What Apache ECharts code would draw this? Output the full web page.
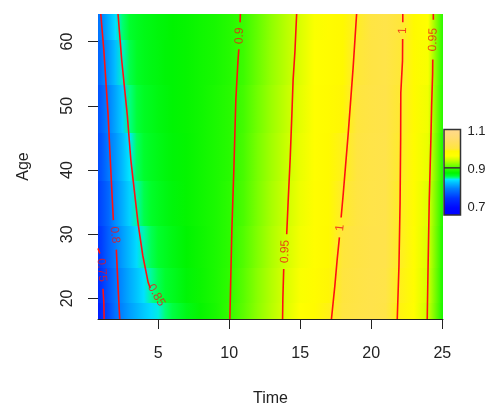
<!DOCTYPE html>
<html>
<head>
<meta charset="utf-8">
<title>Time / Age</title>
<script src="https://cdn.jsdelivr.net/npm/echarts@6.0.0/dist/echarts.min.js"></script>
<style>
  html, body { margin: 0; padding: 0; background: #ffffff; }
  #chart { width: 495px; height: 408px; }
</style>
</head>
<body>
<div id="chart"></div>
<script>
// surface values: one row per age, one value per time
var times = [0.77, 1, 1.5, 2, 2.5, 3, 3.5, 4, 4.5, 5, 5.5, 6, 7, 8, 9, 10, 11, 12, 13, 14, 15, 16, 17, 18, 19, 20, 21, 22, 23, 24, 25];
var ages = [17, 22, 28, 35, 42, 50, 57, 64];

var rowAge17 = [0.72, 0.742, 0.765, 0.79, 0.803, 0.814, 0.824, 0.834, 0.842, 0.849, 0.857, 0.863, 0.873, 0.883, 0.891, 0.9, 0.912, 0.927, 0.941, 0.954, 0.968, 0.982, 0.997, 1.009, 1.016, 1.02, 1.016, 0.996, 0.972, 0.947, 0.893];
var rowAge22 = [0.738, 0.75, 0.771, 0.792, 0.807, 0.82, 0.832, 0.844, 0.854, 0.861, 0.866, 0.87, 0.878, 0.885, 0.892, 0.899, 0.911, 0.926, 0.94, 0.953, 0.966, 0.98, 0.994, 1.007, 1.015, 1.02, 1.018, 0.998, 0.974, 0.95, 0.894];
var rowAge28 = [0.75, 0.756, 0.778, 0.798, 0.814, 0.828, 0.842, 0.853, 0.861, 0.866, 0.87, 0.874, 0.88, 0.886, 0.892, 0.898, 0.909, 0.923, 0.938, 0.95, 0.963, 0.976, 0.99, 1.004, 1.013, 1.019, 1.02, 1.0, 0.976, 0.953, 0.895];
var rowAge35 = [0.758, 0.765, 0.783, 0.806, 0.822, 0.838, 0.853, 0.862, 0.867, 0.871, 0.874, 0.877, 0.882, 0.887, 0.892, 0.898, 0.907, 0.921, 0.936, 0.948, 0.961, 0.974, 0.987, 1.001, 1.011, 1.018, 1.02, 1.0, 0.977, 0.955, 0.896];
var rowAge42 = [0.765, 0.772, 0.795, 0.81, 0.828, 0.846, 0.86, 0.866, 0.87, 0.873, 0.876, 0.878, 0.882, 0.887, 0.892, 0.897, 0.906, 0.92, 0.934, 0.946, 0.959, 0.972, 0.985, 0.998, 1.009, 1.017, 1.02, 1.001, 0.979, 0.959, 0.897];
var rowAge50 = [0.77, 0.778, 0.8, 0.818, 0.836, 0.856, 0.864, 0.869, 0.872, 0.875, 0.877, 0.879, 0.883, 0.887, 0.892, 0.897, 0.905, 0.918, 0.932, 0.944, 0.957, 0.97, 0.982, 0.994, 1.006, 1.015, 1.019, 1.002, 0.981, 0.962, 0.898];
var rowAge57 = [0.78, 0.79, 0.81, 0.83, 0.851, 0.862, 0.868, 0.872, 0.874, 0.876, 0.878, 0.879, 0.883, 0.887, 0.891, 0.896, 0.903, 0.916, 0.93, 0.942, 0.955, 0.968, 0.98, 0.991, 1.003, 1.013, 1.018, 1.003, 0.983, 0.965, 0.899];
var rowAge64 = [0.79, 0.801, 0.823, 0.843, 0.858, 0.866, 0.87, 0.873, 0.875, 0.877, 0.878, 0.88, 0.883, 0.887, 0.891, 0.896, 0.902, 0.914, 0.928, 0.941, 0.953, 0.966, 0.978, 0.989, 1.0, 1.012, 1.018, 1.004, 0.985, 0.968, 0.9];
var surface = [rowAge17, rowAge22, rowAge28, rowAge35, rowAge42, rowAge50, rowAge57, rowAge64];

// contour lines as [time, age]; null leaves room for the label
var contour075 = [[0.77, 27.8], [0.9, 27.0], null, [1.12, 21.5], [1.18, 19.5], [1.2, 16.8]];
var contour080 = [[0.965, 64.3], [1.18, 58.7], [1.48, 48.6], [1.67, 40], [1.85, 32.2], null, [2.06, 27.6], [2.18, 21.8], [2.3, 16.8]];
var contour085 = [[2.18, 64.3], [2.44, 57.1], [2.83, 48.6], [3.08, 41.6], [3.59, 31.7], [3.92, 26.7], [4.3, 22.5], [4.45, 21.6]];
var contour090 = [[10.79, 64.3], [10.77, 63.0], null, [10.68, 58.8], [10.62, 57], [10.47, 50.9], [10.33, 40], [10.19, 30.6], [10.05, 16.8]];
var contour095a = [[14.75, 64.3], [14.63, 58.5], [14.5, 54], [14.42, 49], [14.3, 42], [14.15, 35], [14.05, 30], null, [13.84, 24.6], [13.78, 20], [13.76, 16.8]];
var contour100a = [[18.97, 64.3], [18.73, 56.1], [18.38, 45.7], [18.03, 36.3], [17.88, 32.6], null, [17.76, 29.5], [17.6, 26], [17.44, 22], [17.2, 16.8]];
var contour100b = [[22.22, 64.3], [22.22, 63.0], null, [22.21, 60.4], [22.2, 57], [22.08, 52], [22.07, 45], [22.03, 35], [21.95, 25], [21.83, 16.8]];
var contour095b = [[24.37, 64.3], [24.37, 63.4], null, [24.33, 57.2], [24.32, 55], [24.25, 50], [24.2, 45], [24.08, 35], [24.0, 25], [23.94, 16.8]];
var contourLines = [contour075, contour080, contour085, contour090, contour095a, contour100a, contour100b, contour095b];

// contour labels
var labelTimes = [1.03, 1.95, 4.87, 10.72, 13.93, 17.8, 22.21, 24.35];
var labelAges = [24.4, 29.9, 20.5, 60.9, 27.3, 31.0, 61.7, 60.3];
var labelTexts = ['0.75', '0.8', '0.85', '0.9', '0.95', '1', '1', '0.95'];
var labelAngles = [-85, -84, -60, 88, 88, 84, 89, 88];

var xTicks = [5, 10, 15, 20, 25];
var yTicks = [20, 30, 40, 50, 60];
var legendTicks = [0.7, 0.9, 1.1];
var legendSplit = 0.907;

// colour scale
var rampValues = [0.66, 0.70, 0.75, 0.80, 0.83, 0.847, 0.856, 0.865, 0.88, 0.895, 0.92, 0.95, 0.968, 0.993, 1.004, 1.06, 1.11];
var rampColors = ['#0000ff', '#0008ff', '#0034ff', '#0080ff', '#00c0ff', '#00e8ff', '#00ff80', '#00ff30', '#00f400', '#20fa00', '#78ff00', '#d4ff00', '#ffff00', '#fff800', '#ffe63c', '#ffdc70', '#ffd890'];

var xMin = 0.77, xMax = 25.05, yMin = 16.8, yMax = 64.3;
var barMin = 0.66, barMax = 1.108;
var font = "'Liberation Sans', Arial, sans-serif";

function hexToRgb(h) {
  return [parseInt(h.substr(1, 2), 16), parseInt(h.substr(3, 2), 16), parseInt(h.substr(5, 2), 16)];
}

function rampColor(v) {
  if (v <= rampValues[0]) return rampColors[0];
  for (var k = 1; k < rampValues.length; k++) {
    if (v <= rampValues[k]) {
      var f = (v - rampValues[k - 1]) / (rampValues[k] - rampValues[k - 1]);
      var a = hexToRgb(rampColors[k - 1]), b = hexToRgb(rampColors[k]);
      return 'rgb(' + Math.round(a[0] + (b[0] - a[0]) * f) + ',' +
        Math.round(a[1] + (b[1] - a[1]) * f) + ',' +
        Math.round(a[2] + (b[2] - a[2]) * f) + ')';
    }
  }
  return rampColors[rampColors.length - 1];
}

// age bands: each row fills half way to its neighbours
var bandEdges = [yMin];
for (var i = 0; i < ages.length - 1; i++) bandEdges.push((ages[i] + ages[i + 1]) / 2);
bandEdges.push(yMax);
var surfaceRows = ages.map(function (a, i) {
  return [xMin, bandEdges[i], xMax, bandEdges[i + 1], i];
});

function renderSurfaceRow(params, api) {
  var row = surface[api.value(4)];
  var p0 = api.coord([api.value(0), api.value(3)]);
  var p1 = api.coord([api.value(2), api.value(1)]);
  var w = p1[0] - p0[0];
  var stops = [];
  for (var j = 0; j < times.length; j++) {
    var x = api.coord([times[j], api.value(1)])[0];
    stops.push({ offset: Math.min(1, Math.max(0, (x - p0[0]) / w)), color: rampColor(row[j]) });
  }
  var top = Math.floor(p0[1]);
  return {
    type: 'rect',
    shape: { x: p0[0], y: top, width: w, height: Math.ceil(p1[1]) - top + 1 },
    style: { fill: new echarts.graphic.LinearGradient(0, 0, 1, 0, stops) }
  };
}

function renderLegendBar(params, api) {
  var lo = api.value(1), hi = api.value(3);
  var p0 = api.coord([api.value(0), hi]);
  var p1 = api.coord([api.value(2), lo]);
  var stops = [];
  for (var k = rampValues.length - 1; k >= 0; k--) {
    var off = (hi - rampValues[k]) / (hi - lo);
    stops.push({ offset: Math.min(1, Math.max(0, off)), color: rampColors[k] });
  }
  var sy = api.coord([0, legendSplit])[1];
  return {
    type: 'group',
    children: [
      {
        type: 'rect',
        shape: { x: p0[0], y: p0[1], width: p1[0] - p0[0], height: p1[1] - p0[1] },
        style: { fill: new echarts.graphic.LinearGradient(0, 0, 0, 1, stops), stroke: '#333', lineWidth: 1.5 }
      },
      {
        type: 'line',
        shape: { x1: p0[0], y1: sy, x2: p1[0], y2: sy },
        style: { stroke: '#333', lineWidth: 1.5 }
      }
    ]
  };
}

var chart = echarts.init(document.getElementById('chart'));

var series = [
  {
    type: 'custom',
    xAxisIndex: 0,
    yAxisIndex: 0,
    renderItem: renderSurfaceRow,
    encode: { x: [0, 2], y: [1, 3] },
    data: surfaceRows,
    clip: true,
    silent: true,
    z: 1
  }
];

contourLines.forEach(function (pts) {
  series.push({
    type: 'line',
    xAxisIndex: 0,
    yAxisIndex: 0,
    data: pts,
    symbol: 'none',
    connectNulls: false,
    clip: true,
    silent: true,
    lineStyle: { color: '#ff1010', width: 1.6 },
    z: 3
  });
});

series.push({
  type: 'scatter',
  xAxisIndex: 0,
  yAxisIndex: 0,
  symbolSize: 1,
  itemStyle: { color: 'rgba(0,0,0,0)' },
  silent: true,
  z: 4,
  data: labelTimes.map(function (t, i) {
    return {
      value: [t, labelAges[i]],
      label: {
        show: true,
        position: 'inside',
        formatter: labelTexts[i],
        rotate: labelAngles[i],
        color: '#f01414',
        fontSize: 12,
        fontFamily: font
      }
    };
  })
});

series.push({
  type: 'custom',
  xAxisIndex: 1,
  yAxisIndex: 1,
  renderItem: renderLegendBar,
  encode: { x: [0, 2], y: [1, 3] },
  data: [[0, barMin, 1, barMax]],
  silent: true,
  z: 2
});

var option = {
  animation: false,
  backgroundColor: '#ffffff',
  grid: [
    { left: 98, top: 14, right: 52, bottom: 89, outerBoundsMode: 'none' },
    { left: 444, top: 129.5, width: 16.5, height: 85.5, outerBoundsMode: 'none' }
  ],
  xAxis: [
    {
      type: 'value',
      gridIndex: 0,
      min: xMin,
      max: xMax,
      name: 'Time',
      nameLocation: 'middle',
      nameGap: 72,
      nameTextStyle: { color: '#222', fontSize: 16, fontFamily: font },
      axisLine: { show: true, lineStyle: { color: '#222', width: 1 } },
      axisTick: { show: true, customValues: xTicks, length: 10, lineStyle: { color: '#222' } },
      axisLabel: { customValues: xTicks, margin: 27, color: '#222', fontSize: 16, fontFamily: font },
      splitLine: { show: false }
    },
    {
      type: 'value',
      gridIndex: 1,
      min: 0,
      max: 1,
      show: false
    }
  ],
  yAxis: [
    {
      type: 'value',
      gridIndex: 0,
      min: yMin,
      max: yMax,
      name: 'Age',
      nameLocation: 'middle',
      nameGap: 66,
      nameRotate: 90,
      nameTextStyle: { color: '#222', fontSize: 16, fontFamily: font },
      axisLine: { show: false },
      axisTick: { show: true, customValues: yTicks, length: 10, lineStyle: { color: '#222' } },
      axisLabel: { customValues: yTicks, rotate: 90, margin: 22, color: '#222', fontSize: 16, fontFamily: font },
      splitLine: { show: false }
    },
    {
      type: 'value',
      gridIndex: 1,
      min: barMin,
      max: barMax,
      position: 'right',
      axisLine: { show: false },
      axisTick: { show: false },
      axisLabel: {
        customValues: legendTicks,
        margin: 7,
        color: '#222',
        fontSize: 13,
        fontFamily: font,
        formatter: function (v) { return String(v); }
      },
      splitLine: { show: false }
    }
  ],
  series: series
};

chart.setOption(option);
</script>
</body>
</html>
